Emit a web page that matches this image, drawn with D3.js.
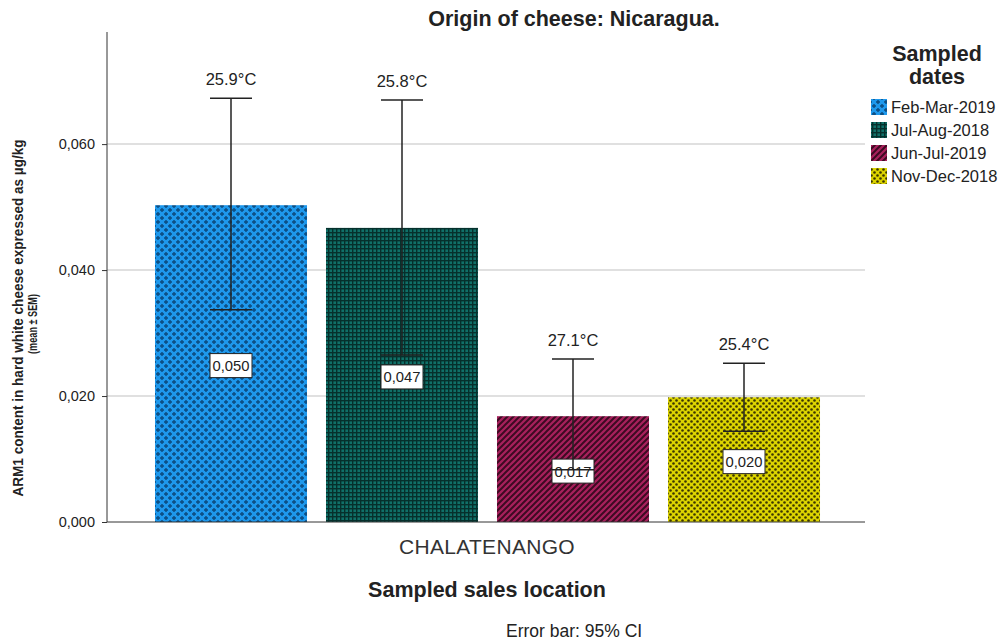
<!DOCTYPE html>
<html>
<head>
<meta charset="utf-8">
<script src="https://cdn.jsdelivr.net/npm/d3@7"></script>
<style>
  body { margin: 0; background: #fff; }
  svg { font-family: "Liberation Sans", Arial, sans-serif; }
</style>
</head>
<body>
<svg id="chart"></svg>
<script>
const dates = ["Feb-Mar-2019", "Jul-Aug-2018", "Jun-Jul-2019", "Nov-Dec-2018"];
const means = [0.0503, 0.0467, 0.0168, 0.0198];
const ciLow = [0.0337, 0.0265, 0.0083, 0.0144];
const ciHigh = [0.0673, 0.0670, 0.0259, 0.0252];
const temps = ["25.9°C", "25.8°C", "27.1°C", "25.4°C"];
const meanLabels = ["0,050", "0,047", "0,017", "0,020"];
const yTicks = [0, 0.02, 0.04, 0.06];

const width = 1005;
const height = 642;

const svg = d3.select("#chart")
  .attr("width", width)
  .attr("height", height);

const defs = svg.append("defs");

// fill patterns, one per date
const pat = (id, w, h, bg, draw) => {
  const p = defs.append("pattern")
    .attr("id", id)
    .attr("patternUnits", "userSpaceOnUse")
    .attr("width", w)
    .attr("height", h);
  p.append("rect").attr("width", w).attr("height", h).attr("fill", bg);
  draw(p);
}

pat("p0", 8, 8, "#1e98ec", (p) => {
  const plus = (x, y) => "M" + (x - 0.7) + "," + (y - 2) + "h1.4v1.3h1.3v1.4h-1.3v1.3h-1.4v-1.3h-1.3v-1.4h1.3z";
  p.append("path").attr("d", plus(2, 2) + plus(6, 6)).attr("fill", "#0b4a7e");
})
pat("p1", 4, 4, "#107068", (p) => {
  p.append("rect").attr("x", 0).attr("y", 0).attr("width", 4).attr("height", 1.4).attr("fill", "#06302c");
  p.append("rect").attr("x", 0).attr("y", 0).attr("width", 1.4).attr("height", 4).attr("fill", "#06302c");
})
pat("p2", 6, 6, "#a8205c", (p) => {
  p.append("path").attr("d", "M-1,1L1,-1M0,6L6,0M5,7L7,5")
    .attr("stroke", "#3d0a22").attr("stroke-width", 2);
})
pat("p3", 6, 6, "#dcd400", (p) => {
  p.append("circle").attr("cx", 1.5).attr("cy", 1.5).attr("r", 1.3).attr("fill", "#3b3600");
  p.append("circle").attr("cx", 4.5).attr("cy", 4.5).attr("r", 1.3).attr("fill", "#3b3600");
})

const xScale = d3.scaleBand()
  .domain(dates)
  .range([145.5, 829.5])
  .paddingInner(0.111)
  .paddingOuter(0.0555);

const yScale = d3.scaleLinear()
  .domain([0, 0.0778])
  .range([522, 32]);

const cx = (d) => xScale(d) + xScale.bandwidth() / 2;

// gridlines
svg.append("g")
  .selectAll("line")
  .data(yTicks.filter(d => d > 0))
  .enter()
  .append("line")
  .attr("x1", 107)
  .attr("x2", 865)
  .attr("y1", d => yScale(d))
  .attr("y2", d => yScale(d))
  .attr("stroke", "#d6d6d6")
  .attr("stroke-width", 1.5);

// bars
svg.append("g")
  .selectAll("rect")
  .data(dates)
  .enter()
  .append("rect")
  .attr("x", d => xScale(d))
  .attr("y", (d, i) => yScale(means[i]))
  .attr("width", xScale.bandwidth())
  .attr("height", (d, i) => yScale(0) - yScale(means[i]))
  .attr("fill", (d, i) => "url(#p" + i + ")");

// axes
const yAxis = d3.axisLeft(yScale)
  .tickValues(yTicks)
  .tickFormat(d => d3.format(".3f")(d).replace(".", ","))
  .tickSize(5)
  .tickSizeOuter(0);

const yg = svg.append("g")
  .attr("id", "y-axis")
  .attr("transform", "translate(107, 0)")
  .call(yAxis);
yg.select(".domain").attr("stroke", "#333").attr("d", "M0,32V522");
yg.selectAll(".tick line").attr("stroke", "#333");
yg.selectAll(".tick text")
  .attr("font-size", 14.5)
  .attr("font-family", "Liberation Sans, Arial, sans-serif")
  .attr("fill", "#222")
  .attr("x", -12);

svg.append("line")
  .attr("x1", 107).attr("x2", 865)
  .attr("y1", yScale(0)).attr("y2", yScale(0))
  .attr("stroke", "#333");

// mean labels in boxes
const ml = svg.append("g");
dates.forEach((d, i) => {
  const cy = (yScale(means[i]) + yScale(0)) / 2 + 2;
  ml.append("rect")
    .attr("x", cx(d) - 21).attr("y", cy - 12)
    .attr("width", 42).attr("height", 24)
    .attr("fill", "#fff")
    .attr("stroke", "#222").attr("stroke-width", 1);
  ml.append("text")
    .attr("x", cx(d)).attr("y", cy + 5.5)
    .attr("text-anchor", "middle")
    .attr("font-size", 14.8)
    .attr("fill", "#222")
    .text(meanLabels[i]);
});

// error bars
const eb = svg.append("g").attr("stroke", "#222").attr("stroke-width", 1.5);
dates.forEach((d, i) => {
  eb.append("line").attr("x1", cx(d)).attr("x2", cx(d))
    .attr("y1", yScale(ciLow[i])).attr("y2", yScale(ciHigh[i]));
  eb.append("line").attr("x1", cx(d) - 21).attr("x2", cx(d) + 21)
    .attr("y1", yScale(ciHigh[i])).attr("y2", yScale(ciHigh[i]));
  eb.append("line").attr("x1", cx(d) - 21).attr("x2", cx(d) + 21)
    .attr("y1", yScale(ciLow[i])).attr("y2", yScale(ciLow[i]));
});

// temperature labels
svg.append("g")
  .selectAll("text")
  .data(dates)
  .enter()
  .append("text")
  .attr("x", d => cx(d))
  .attr("y", (d, i) => yScale(ciHigh[i]) - 13)
  .attr("text-anchor", "middle")
  .attr("font-size", 16.5)
  .attr("fill", "#222")
  .text((d, i) => temps[i]);

// titles
svg.append("text")
  .attr("x", 574).attr("y", 26)
  .attr("text-anchor", "middle")
  .attr("font-size", 21.5).attr("font-weight", "bold")
  .attr("fill", "#222")
  .text("Origin of cheese: Nicaragua.");

svg.append("text")
  .attr("x", 487).attr("y", 554)
  .attr("text-anchor", "middle")
  .attr("font-size", 21)
  .attr("letter-spacing", 0.3)
  .attr("fill", "#333")
  .text("CHALATENANGO");

svg.append("text")
  .attr("x", 487).attr("y", 597)
  .attr("text-anchor", "middle")
  .attr("font-size", 21.5).attr("font-weight", "bold")
  .attr("fill", "#222")
  .text("Sampled sales location");

svg.append("text")
  .attr("x", 506).attr("y", 637)
  .attr("font-size", 17.5)
  .attr("fill", "#222")
  .text("Error bar: 95% CI");

const yl = svg.append("g").attr("transform", "translate(0, 318) rotate(-90)");
yl.append("text")
  .attr("x", 0).attr("y", 23)
  .attr("text-anchor", "middle")
  .attr("font-size", 14.5).attr("font-weight", "bold")
  .attr("fill", "#222")
  .attr("textLength", 357).attr("lengthAdjust", "spacingAndGlyphs")
  .text("ARM1 content in hard white cheese expressed as µg/kg");
yl.append("text")
  .attr("x", -6).attr("y", 37)
  .attr("text-anchor", "middle")
  .attr("font-size", 12.5).attr("font-weight", "bold")
  .attr("fill", "#222")
  .attr("textLength", 60).attr("lengthAdjust", "spacingAndGlyphs")
  .text("(mean ± SEM)");

// legend
const lg = svg.append("g");
lg.append("text").attr("x", 937).attr("y", 61).attr("text-anchor", "middle")
  .attr("font-size", 21.5).attr("font-weight", "bold").attr("fill", "#222").text("Sampled");
lg.append("text").attr("x", 937).attr("y", 84).attr("text-anchor", "middle")
  .attr("font-size", 21.5).attr("font-weight", "bold").attr("fill", "#222").text("dates");

lg.selectAll("rect")
  .data(dates)
  .enter()
  .append("rect")
  .attr("x", 871)
  .attr("y", (d, i) => 99 + i * 23)
  .attr("width", 16).attr("height", 16)
  .attr("fill", (d, i) => "url(#p" + i + ")");

lg.selectAll("text.item")
  .data(dates)
  .enter()
  .append("text")
  .attr("class", "item")
  .attr("x", 891)
  .attr("y", (d, i) => 113 + i * 23)
  .attr("font-size", 16.5)
  .attr("fill", "#222")
  .text(d => d);
</script>
</body>
</html>
